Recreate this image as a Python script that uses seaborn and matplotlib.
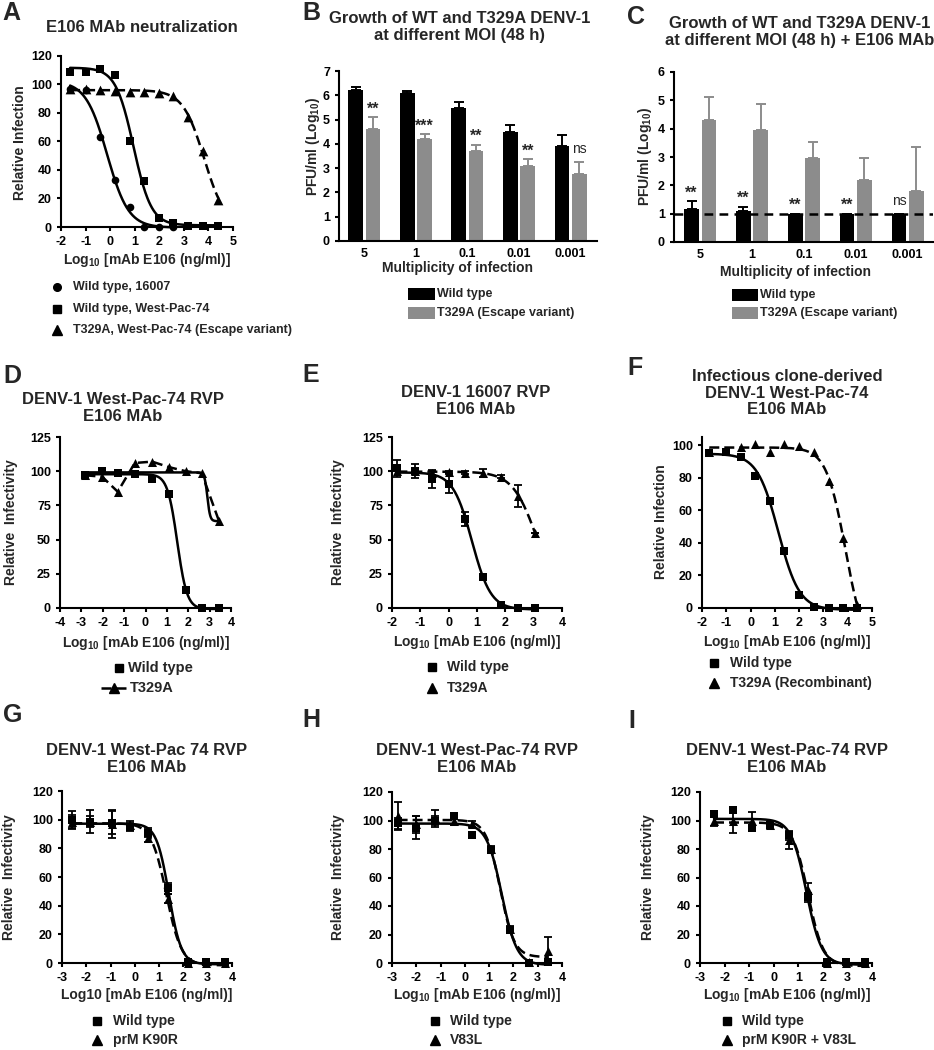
import numpy as np
import pandas as pd
import seaborn as sns
import matplotlib.pyplot as plt
from matplotlib.lines import Line2D
from matplotlib.patches import Rectangle

W, H = 934, 1050

# ---------------- data ----------------
# A  E106 MAb neutralization
a_x = [-1.63, -1.0, -0.41, 0.2, 0.81, 1.39, 1.99, 2.57, 3.18, 3.79, 4.4]
a_16007 = [96.5, 96, 63, 33, 14, 0, 0, 0]
a_wp74 = [109, 108.5, 111, 106.5, 60.5, 32.5, 6, 3, 0.5, 0.5, 0.5]
a_t329a = [97, 97, 96, 95.5, 95, 95, 94, 92, 77, 53, 19]

# B / C  growth at different MOI
moi = ["5", "1", "0.1", "0.01", "0.001"]
b_wt = [6.23, 6.11, 5.48, 4.47, 3.9]
b_wt_err = [0.11, 0.05, 0.25, 0.3, 0.47]
b_mut = [4.63, 4.2, 3.7, 3.08, 2.74]
b_mut_err = [0.48, 0.2, 0.27, 0.28, 0.52]
b_sig = ["**", "***", "**", "**", "ns"]
c_wt = [1.15, 1.09, 1.0, 1.0, 1.0]
c_wt_err = [0.3, 0.16, 0, 0, 0]
c_mut = [4.29, 3.94, 2.98, 2.19, 1.8]
c_mut_err = [0.83, 0.92, 0.55, 0.79, 1.56]
c_sig = ["**", "**", "**", "**", "ns"]
c_limit = 1.0

# D  West-Pac-74 RVP
d_x = [-2.81, -2.03, -1.3, -0.5, 0.31, 1.09, 1.88, 2.63, 3.44]
d_wt = [97, 100, 99, 98, 94.5, 83, 13, 0, 0]
d_mut = [97, 96, 85, 106, 107, 103, 100, 98.5, 63.5]

# E  16007 RVP
e_x = [-1.81, -1.2, -0.59, 0.0, 0.59, 1.21, 1.85, 2.44, 3.05]
e_wt = [102, 100, 94, 91, 65, 23, 2, 0, 0]
e_wt_err = [6, 5, 6, 7, 5, 2, 1, 0, 0]
e_mut = [100, 100, 99, 99.5, 99, 98.5, 96, 82, 55]
e_mut_err = [0, 0, 2, 1, 1, 3, 1, 8, 0]

# F  infectious clone
f_x = [-1.7, -1.02, -0.41, 0.18, 0.82, 1.39, 2.0, 2.63, 3.23, 3.82, 4.39]
f_wt = [95, 95.5, 92.5, 81, 66, 35, 8, 0.6, 0, 0, 0]
f_mut = [96, 96.5, 99, 100.5, 95.5, 100.5, 99.5, 96, 78, 43, 1.6]

# G  prM K90R
g_x = [-2.58, -1.84, -0.95, -0.2, 0.54, 1.36, 2.18, 2.93, 3.72]
g_wt = [100, 98.6, 98, 95, 91, 52, 1, 0.5, 0.5]
g_wt_err = [6, 8, 8, 3, 3, 4, 1, 0, 0]
g_mut = [98.5, 98.6, 97, 96, 87.5, 45, 0, 0, 0]
g_mut_err = [5, 4, 10, 3, 3, 3, 0, 0, 0]

# H  V83L
h_x = [-2.77, -2.0, -1.25, -0.45, 0.31, 1.08, 1.85, 2.64, 3.42]
h_wt = [98, 95, 100, 103.5, 90, 79.5, 23.5, 0, 0.5]
h_wt_err = [4, 8, 3, 2, 1, 2, 2, 0, 0]
h_mut = [103, 97.5, 101.5, 100, 97.5, 80, 24, 1, 8.5]
h_mut_err = [10, 6, 6, 3, 2, 2, 2, 1, 9.5]

# I  prM K90R + V83L
i_x = [-2.43, -1.66, -0.89, -0.14, 0.64, 1.41, 2.18, 2.95, 3.73]
i_wt = [104.8, 107.6, 95, 96.6, 89.6, 46, 0.7, 0.5, 0.5]
i_wt_err = [2, 2, 2, 2, 3, 3, 0, 0, 0]
i_mut = [100, 99.4, 100, 97, 86, 51, 0, 0, 0]
i_mut_err = [4, 8, 6, 2, 6, 5, 0, 0, 0]

# ---------------- style ----------------
sns.set_style("ticks")
plt.rcParams.update({
    "font.family": ["Liberation Sans", "DejaVu Sans"],
    "font.weight": "bold",
    "axes.labelweight": "bold",
    "axes.unicode_minus": False,
    "mathtext.fontset": "custom",
    "mathtext.rm": "Liberation Sans:bold",
    "mathtext.it": "Liberation Sans:bold",
    "mathtext.bf": "Liberation Sans:bold",
    "mathtext.default": "rm",
    "axes.linewidth": 1.5,
    "xtick.major.width": 1.5,
    "ytick.major.width": 1.5,
    "xtick.major.size": 3,
    "ytick.major.size": 3,
    "xtick.labelsize": 9,
    "ytick.labelsize": 9,
    "xtick.color": "black",
    "ytick.color": "black",
    "axes.edgecolor": "black",
})

fig = plt.figure(figsize=(W / 100, H / 100), dpi=100)
fig.patch.set_facecolor("white")

LOGLAB = "Log$_{10}$ [mAb E106 (ng/ml)]"
GRAY = "#8c8c8c"
DASH = (0, (4, 2))


def fx(x):
    return x / W


def fy(y):
    return 1 - y / H


def place(x0, x1, ytop, ybot):
    ax = fig.add_axes([fx(x0), fy(ybot), (x1 - x0) / W, (ybot - ytop) / H])
    sns.despine(ax=ax)
    ax.patch.set_alpha(0)
    return ax


def txt(x, y, s, size, **kw):
    kw.setdefault("ha", "center")
    kw.setdefault("va", "center")
    kw.setdefault("fontweight", "bold")
    fig.text(fx(x), fy(y), s, fontsize=size, **kw)


def letter(x, y, s):
    txt(x, y, s, 18, ha="left")


def fit_curve(x, y, bottom=None, n=200):
    # 4-parameter logistic fit by grid search (top/bottom solved linearly)
    x = np.asarray(x, float)
    y = np.asarray(y, float)
    cs = np.linspace(x.min() - 1, x.max() + 1, 241)
    hs = np.linspace(0.4, 8, 77)
    cc, hh = [g.ravel() for g in np.meshgrid(cs, hs)]
    s = 1 / (1 + 10 ** ((x[None, :] - cc[:, None]) * hh[:, None]))
    if bottom is None:
        u = 1 - s
        suu = (u * u).sum(1)
        suv = (u * s).sum(1)
        svv = (s * s).sum(1)
        suy = (u * y).sum(1)
        svy = (s * y).sum(1)
        det = suu * svv - suv ** 2
        ok = det > 1e-4 * suu * svv
        det[~ok] = 1
        b = (svv * suy - suv * svy) / det
        t = (suu * svy - suv * suy) / det
    else:
        b = np.full(len(cc), float(bottom))
        svv = (s * s).sum(1)
        ok = svv > 1e-6
        t = b + (s * (y - bottom)).sum(1) / np.maximum(svv, 1e-9)
    pred = b[:, None] + (t - b)[:, None] * s
    sse = ((pred - y) ** 2).sum(1)
    sse[~ok] = np.inf
    k = np.argmin(sse)
    xs = np.linspace(x.min(), x.max(), n)
    ys = b[k] + (t[k] - b[k]) / (1 + 10 ** ((xs - cc[k]) * hh[k]))
    return pd.DataFrame({"x": xs, "y": ys})


def series(ax, x, y, marker, ms, dashed=False, err=None, bottom=None, fit=True, connect=False):
    x = list(x)[:len(y)]
    if fit:
        curve = fit_curve(x, y, bottom)
        sns.lineplot(data=curve, x="x", y="y", ax=ax, color="black", lw=1.8,
                     linestyle=DASH if dashed else "-", clip_on=False, zorder=2)
    if connect:
        ax.plot(x, y, color="black", lw=1.8, linestyle=DASH, clip_on=False, zorder=2)
    if err is not None:
        ax.errorbar(x, y, yerr=err, fmt="none", ecolor="black", elinewidth=1.3,
                    capsize=3, capthick=1.3, clip_on=False, zorder=3)
    sns.scatterplot(x=x, y=y, ax=ax, marker=marker, s=ms ** 2, color="black",
                    linewidth=0, clip_on=False, zorder=4)
    ax.set_xlabel("")
    ax.set_ylabel("")


def legend_marker(x, y, marker, ms, line=None):
    if line is not None:
        fig.add_artist(Line2D([fx(line[0]), fx(line[1])], [fy(y), fy(y)], color="black",
                              lw=1.8, linestyle=DASH, transform=fig.transFigure))
    fig.add_artist(Line2D([fx(x)], [fy(y)], marker=marker, ms=ms, color="black",
                          ls="none", transform=fig.transFigure))


def legend_rect(x0, x1, y, color):
    fig.add_artist(Rectangle((fx(x0), fy(y + 6)), (x1 - x0) / W, 12 / H,
                             color=color, transform=fig.transFigure, lw=0))


# ---------------- A ----------------
ax = place(61, 233, 56, 227)
series(ax, a_x, a_16007, "o", 5.5)
series(ax, a_x, a_wp74, "s", 6)
series(ax, a_x, a_t329a, "^", 7, dashed=True, bottom=0)
ax.set_xlim(-2, 5)
ax.set_ylim(0, 120)
ax.set_xticks(range(-2, 6))
ax.set_yticks(range(0, 121, 20))
letter(2, 13, "A")
txt(142, 27, "E106 MAb neutralization", 12)
txt(20, 143, "Relative Infection", 10, rotation=90)
txt(147, 260, LOGLAB, 10)
for yy, mk, ms, lab in [(287, "o", 5.5, "Wild type, 16007"),
                        (309, "s", 6, "Wild type, West-Pac-74"),
                        (330, "^", 7, "T329A, West-Pac-74 (Escape variant)")]:
    legend_marker(57, yy, mk, ms)
    txt(73, yy, lab, 9, ha="left")


# ---------------- B / C ----------------
def bar_panel(ax, wt, wt_err, mut, mut_err, sig, sig_on_mut, ylim):
    df = pd.DataFrame({"moi": moi * 2, "val": wt + mut,
                       "strain": ["Wild type"] * 5 + ["T329A"] * 5})
    sns.barplot(data=df, x="moi", y="val", hue="strain", order=moi,
                hue_order=["Wild type", "T329A"], palette=["black", GRAY],
                width=0.67, gap=0.15, errorbar=None, legend=False,
                saturation=1, linewidth=0, ax=ax)
    bars = ax.patches
    xc_wt = [p.get_x() + p.get_width() / 2 for p in bars[:5]]
    xc_mut = [p.get_x() + p.get_width() / 2 for p in bars[5:10]]
    ax.errorbar(xc_wt, wt, yerr=[np.zeros(5), wt_err], fmt="none", ecolor="black",
                elinewidth=1.4, capsize=3.5, capthick=1.4, zorder=3)
    ax.errorbar(xc_mut, mut, yerr=[np.zeros(5), mut_err], fmt="none", ecolor=GRAY,
                elinewidth=1.4, capsize=3.5, capthick=1.4, zorder=3)
    xs = xc_mut if sig_on_mut else xc_wt
    tops = np.add(mut, mut_err) if sig_on_mut else np.add(wt, wt_err)
    for xx, tp, s in zip(xs, tops, sig):
        if s == "ns":
            ax.annotate(s, (xx, tp), xytext=(0, 6.5), textcoords="offset points",
                        ha="center", va="baseline", fontsize=10, fontweight="normal")
        else:
            ax.annotate(s, (xx, tp), xytext=(0, 2.5), textcoords="offset points",
                        ha="center", va="baseline", fontsize=11.5, fontweight="bold")
    ax.set_xlabel("")
    ax.set_ylabel("")
    ax.tick_params(axis="x", length=0, pad=5)
    ax.set_ylim(*ylim)


ax = place(339, 597, 71, 241)
bar_panel(ax, b_wt, b_wt_err, b_mut, b_mut_err, b_sig, True, (0, 7))
ax.set_xlim(-0.49, 4.51)
ax.set_yticks(range(0, 8))
letter(302, 13, "B")
txt(460, 27, "Growth of WT and T329A DENV-1\nat different MOI (48 h)", 12, linespacing=1.15)
txt(313, 147, "PFU/ml (Log$_{10}$)", 10, rotation=90)
txt(458, 268, "Multiplicity of infection", 10)
legend_rect(408, 435, 294, "black")
txt(437, 294, "Wild type", 9, ha="left")
legend_rect(408, 435, 313, GRAY)
txt(437, 313, "T329A (Escape variant)", 9, ha="left")

ax = place(674, 933, 72, 242)
bar_panel(ax, c_wt, c_wt_err, c_mut, c_mut_err, c_sig, False, (0, 6))
ax.axhline(c_limit, color="black", lw=1.8, linestyle=(0, (3.5, 2.5)), zorder=5)
ax.set_xlim(-0.506, 4.49)
ax.set_yticks(range(0, 7))
letter(627, 17, "C")
txt(800, 32, "Growth of WT and T329A DENV-1\nat different MOI (48 h) + E106 MAb", 12, linespacing=1.15)
txt(645, 157, "PFU/ml (Log$_{10}$)", 10, rotation=90)
txt(796, 272, "Multiplicity of infection", 10)
legend_rect(732, 758, 295, "black")
txt(760, 295, "Wild type", 9, ha="left")
legend_rect(732, 758, 313, GRAY)
txt(760, 313, "T329A (Escape variant)", 9, ha="left")

# ---------------- D ----------------
ax = place(60, 231, 437, 608)
series(ax, d_x, d_wt, "s", 6)
series(ax, d_x, d_mut, "^", 6.5, connect=True)
ax.set_xlim(-4, 4)
ax.set_ylim(0, 125)
ax.set_xticks(range(-4, 5))
ax.set_yticks(range(0, 126, 25))
letter(3, 376, "D")
txt(123, 408, "DENV-1 West-Pac-74 RVP\nE106 MAb", 12, linespacing=1.15)
txt(11, 522, "Relative  Infectivity", 10, rotation=90)
txt(146, 643, LOGLAB, 10)
legend_marker(119, 668, "s", 6)
txt(128, 668, "Wild type", 10.5, ha="left")
legend_marker(114, 688, "^", 6.5, line=(101, 127))
txt(130, 688, "T329A", 10.5, ha="left")

# ---------------- E ----------------
ax = place(392, 562, 437, 608)
series(ax, e_x, e_wt, "s", 6, err=e_wt_err)
series(ax, e_x, e_mut, "^", 6.5, dashed=True, err=e_mut_err, bottom=0)
ax.set_xlim(-2, 4)
ax.set_ylim(0, 125)
ax.set_xticks(range(-2, 5))
ax.set_yticks(range(0, 126, 25))
letter(302, 375, "E")
txt(476, 401, "DENV-1 16007 RVP\nE106 MAb", 12, linespacing=1.15)
txt(338, 522, "Relative  Infectivity", 10, rotation=90)
txt(477, 642, LOGLAB, 10)
legend_marker(432, 667, "s", 6)
txt(447, 667, "Wild type", 10, ha="left")
legend_marker(432, 688, "^", 6.5)
txt(447, 688, "T329A", 10, ha="left")

# ---------------- F ----------------
ax = place(702, 872, 437, 608)
series(ax, f_x, f_wt, "s", 6)
series(ax, f_x, f_mut, "^", 6.5, dashed=True)
ax.set_xlim(-2, 5)
ax.set_ylim(0, 105)
ax.set_xticks(range(-2, 6))
ax.set_yticks(range(0, 101, 20))
letter(627, 368, "F")
txt(787, 393, "Infectious clone-derived\nDENV-1 West-Pac-74\nE106 MAb", 12, linespacing=1.15)
txt(661, 522, "Relative Infection", 10, rotation=90)
txt(787, 642, LOGLAB, 10)
legend_marker(714, 663, "s", 6)
txt(730, 663, "Wild type", 10, ha="left")
legend_marker(714, 683, "^", 6.5)
txt(730, 683, "T329A (Recombinant)", 10, ha="left")

# ---------------- G / H / I ----------------
bottom_row = [
    (62, 232, 791, g_x, g_wt, g_wt_err, g_mut, g_mut_err, "G", 3, 715,
     "DENV-1 West-Pac 74 RVP\nE106 MAb", 147, 9, "Log10 [mAb E106 (ng/ml)]", 97, 113, "prM K90R"),
    (392, 562, 792, h_x, h_wt, h_wt_err, h_mut, h_mut_err, "H", 302, 720,
     "DENV-1 West-Pac-74 RVP\nE106 MAb", 477, 338, LOGLAB, 435, 450, "V83L"),
    (700, 872, 792, i_x, i_wt, i_wt_err, i_mut, i_mut_err, "I", 628, 721,
     "DENV-1 West-Pac-74 RVP\nE106 MAb", 787, 648, LOGLAB, 727, 742, "prM K90R + V83L"),
]
for (x0, x1, yt, xv, wt, wt_err, mut, mut_err, lt, lx, ly, title, cx, ylx,
     xlab, mx, tx, mut_name) in bottom_row:
    ax = place(x0, x1, yt, 963)
    series(ax, xv, wt, "s", 6, err=wt_err)
    series(ax, xv, mut, "^", 6.5, dashed=True, err=mut_err)
    ax.set_xlim(-3, 4)
    ax.set_ylim(0, 120)
    ax.set_xticks(range(-3, 5))
    ax.set_yticks(range(0, 121, 20))
    letter(lx, ly, lt)
    txt(cx, 759, title, 12, linespacing=1.15)
    txt(ylx, 877, "Relative  Infectivity", 10, rotation=90)
    txt(cx, 995, xlab, 10)
    legend_marker(mx, 1021, "s", 6)
    txt(tx, 1021, "Wild type", 10, ha="left")
    legend_marker(mx, 1040, "^", 6.5)
    txt(tx, 1040, mut_name, 10, ha="left")

fig.savefig("out.png", dpi=100, facecolor="white")
